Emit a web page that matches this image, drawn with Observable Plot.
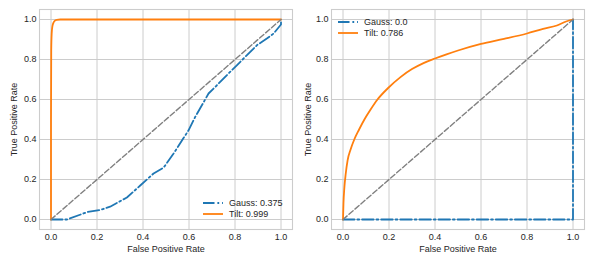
<!DOCTYPE html>
<html><head><meta charset="utf-8">
<script src="https://cdn.jsdelivr.net/npm/d3@7"></script>
<script src="https://cdn.jsdelivr.net/npm/@observablehq/plot@0.6"></script>
<style>
body{margin:0;background:#fff;}
#wrap{display:flex;width:594px;height:264px;}
.panel{position:relative;width:297px;height:264px;}
.legend{position:absolute;font:9px "Liberation Sans",Arial,sans-serif;color:#262626;}
.legend .row{display:flex;align-items:center;height:11.3px;}
.legend svg{margin-right:6px;}
</style></head><body><div id="wrap"></div>
<script>
const ticks = [0, 0.2, 0.4, 0.6, 0.8, 1.0];
const diagFpr = [0, 1];
const diagTpr = [0, 1];

// Left panel
const leftGaussFpr = [0, 0.07, 0.157, 0.214, 0.257, 0.33, 0.388, 0.446, 0.49, 0.533, 0.57, 0.598, 0.627, 0.656, 0.685, 0.722, 0.765, 0.809, 0.852, 0.896, 0.94, 0.968, 1.0, 1.0];
const leftGaussTpr = [0, 0.0, 0.037, 0.048, 0.064, 0.11, 0.17, 0.23, 0.26, 0.33, 0.396, 0.446, 0.513, 0.571, 0.63, 0.672, 0.722, 0.772, 0.822, 0.872, 0.906, 0.93, 0.975, 1.0];
const leftTiltFpr = [0, 0, 0.001, 0.003, 0.006, 0.01, 0.016, 0.025, 0.04, 1.0];
const leftTiltTpr = [0, 0.5, 0.85, 0.93, 0.965, 0.982, 0.993, 0.998, 1.0, 1.0];
const leftLabels = ["Gauss: 0.375", "Tilt: 0.999"];

// Right panel
const rightGaussFpr = [0, 1, 1];
const rightGaussTpr = [0, 0, 1];
const rightTiltFpr = [0, 0.002, 0.006, 0.012, 0.02, 0.033, 0.049, 0.07, 0.093, 0.12, 0.15, 0.194, 0.25, 0.3, 0.35, 0.4, 0.45, 0.5, 0.6, 0.7, 0.8, 0.87, 0.93, 0.97, 1.0];
const rightTiltTpr = [0, 0.08, 0.16, 0.23, 0.296, 0.35, 0.4, 0.45, 0.5, 0.55, 0.6, 0.655, 0.712, 0.752, 0.782, 0.805, 0.826, 0.845, 0.878, 0.903, 0.93, 0.953, 0.97, 0.99, 1.0];
const rightLabels = ["Gauss: 0.0", "Tilt: 0.786"];

const BLUE = "#1f77b4", ORANGE = "#ff7f0e";
const DASHDOT = "11.5,2.9,1.8,2.9";

function pts(xs, ys) { return xs.map((x, i) => ({x, y: ys[i]})); }

function panel(opts) {
  const chart = Plot.plot({
    width: 297, height: 264,
    marginLeft: opts.ml, marginRight: opts.mr, marginTop: 9, marginBottom: 35,
    style: {fontFamily: '"Liberation Sans", Arial, sans-serif', fontSize: "9px", color: "#262626", background: "#fff"},
    x: {domain: [-0.05, 1.05], ticks: ticks, tickFormat: d3.format(".1f"), tickSize: 0, tickPadding: 4, label: "False Positive Rate", labelArrow: "none", labelAnchor: "center", labelOffset: 22},
    y: {domain: [-0.05, 1.05], ticks: ticks, tickFormat: d3.format(".1f"), tickSize: 0, tickPadding: 3, label: "True Positive Rate", labelArrow: "none", labelAnchor: "center", labelOffset: opts.lo},
    marks: [
      Plot.gridX(ticks, {stroke: "#cccccc", strokeOpacity: 1, strokeWidth: 1}),
      Plot.gridY(ticks, {stroke: "#cccccc", strokeOpacity: 1, strokeWidth: 1}),
      Plot.frame({stroke: "#cccccc", strokeWidth: 1.1}),
      Plot.line(pts(opts.gx, opts.gy), {x: "x", y: "y", stroke: BLUE, strokeWidth: 1.8, strokeDasharray: DASHDOT}),
      Plot.line(pts(opts.tx, opts.ty), {x: "x", y: "y", stroke: ORANGE, strokeWidth: 1.8, curve: "monotone-x"}),
      Plot.line(pts(diagFpr, diagTpr), {x: "x", y: "y", stroke: "#808080", strokeWidth: 1.4, strokeDasharray: "5.5,2.4"})
    ]
  });
  const div = document.createElement("div");
  div.className = "panel";
  div.appendChild(chart);
  const lg = document.createElement("div");
  lg.className = "legend";
  lg.style.left = opts.lgLeft + "px";
  lg.style.top = opts.lgTop + "px";
  const styles = [[BLUE, DASHDOT], [ORANGE, "none"]];
  opts.labels.forEach((t, i) => {
    const r = document.createElement("div");
    r.className = "row";
    r.innerHTML = `<svg width="20" height="4"><line x1="0" x2="20" y1="2" y2="2" stroke="${styles[i][0]}" stroke-width="1.8" stroke-dasharray="${styles[i][1]}"/></svg><span>${t}</span>`;
    lg.appendChild(r);
  });
  div.appendChild(lg);
  return div;
}

const wrap = document.getElementById("wrap");
wrap.appendChild(panel({ml: 39, mr: 5, lo: 29, gx: leftGaussFpr, gy: leftGaussTpr, tx: leftTiltFpr, ty: leftTiltTpr, labels: leftLabels, lgLeft: 203, lgTop: 197}));
wrap.appendChild(panel({ml: 34, mr: 10, lo: 27, gx: rightGaussFpr, gy: rightGaussTpr, tx: rightTiltFpr, ty: rightTiltTpr, labels: rightLabels, lgLeft: 41, lgTop: 16.5}));
</script></body></html>
